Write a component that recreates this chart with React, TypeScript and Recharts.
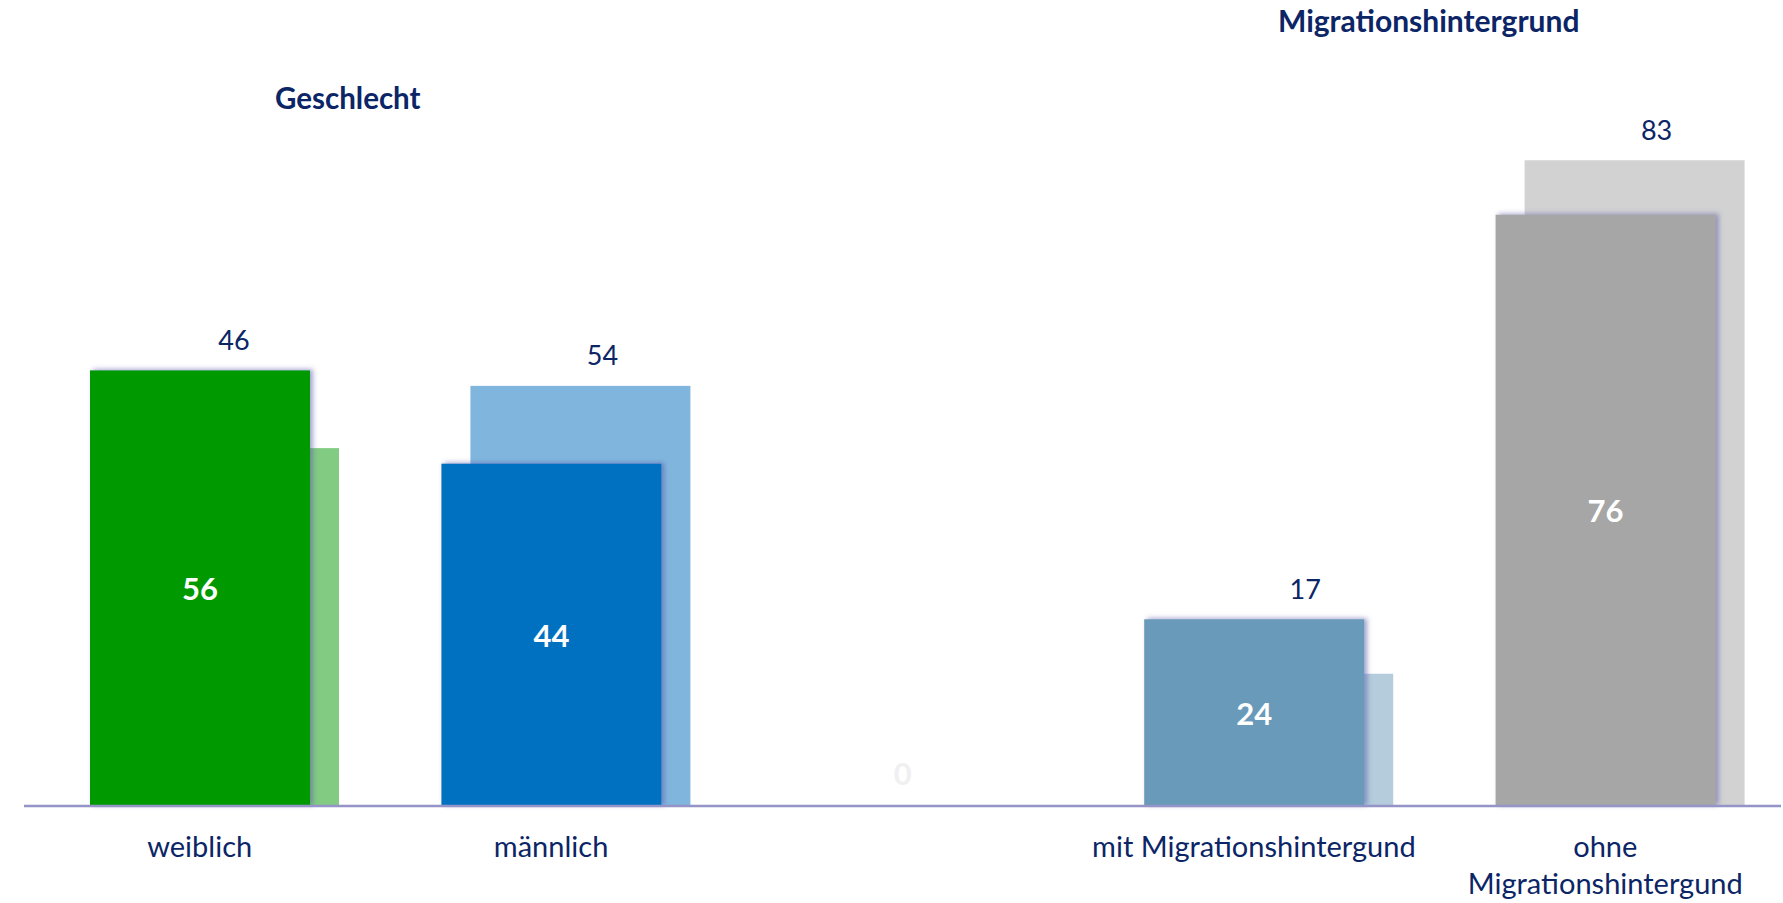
import React from "react";
import { Bar, BarChart, LabelList, XAxis, YAxis } from "recharts";

const categories = [
  "weiblich",
  "männlich",
  "",
  "mit Migrationshintergund",
  "ohne\nMigrationshintergund",
];
const currentShares = [56, 44, 0, 24, 76];
const previousShares = [46, 54, 0, 17, 83];
const frontColors = ["#009900", "#0070C0", "#FFFFFF", "#6A9AB9", "#A6A6A6"];
const backColors = ["#82CB82", "#80B6DE", "#FFFFFF", "#B4CCDC", "#D2D2D2"];

const data = categories.map((name, i) => ({
  name,
  current: currentShares[i],
  previous: previousShares[i],
}));

const NAVY = "#0B2566";
const FONT = "Lato, 'Open Sans', sans-serif";
const BACK_SHIFT = 29;

function BackBar(props: any) {
  const { x, y, width, height, index } = props;
  if (!height) return null;
  return <rect x={x + BACK_SHIFT} y={y} width={width} height={height} fill={backColors[index]} />;
}

function FrontBar(props: any) {
  const { x, y, width, height, index } = props;
  if (!height) return null;
  return (
    <rect x={x} y={y} width={width} height={height} fill={frontColors[index]} filter="url(#barShadow)" />
  );
}

function BackLabel(props: any) {
  const { x, y, width, height, index } = props;
  const prev = previousShares[index];
  if (!prev) return null;
  const ppu = height / prev;
  const frontTop = y + height - currentShares[index] * ppu;
  const top = Math.min(y, frontTop);
  const nudge = index === 0 ? 5 : 22;
  return (
    <text
      x={x + BACK_SHIFT + width / 2 + nudge}
      y={top - 31}
      textAnchor="middle"
      dominantBaseline="central"
      fill={NAVY}
      fontSize={27}
      fontFamily={FONT}
    >
      {prev}
    </text>
  );
}

function FrontLabel(props: any) {
  const { x, y, width, height, value } = props;
  const cy = value === 0 ? y - 33 : y + height / 2;
  return (
    <text
      x={x + width / 2}
      y={cy}
      textAnchor="middle"
      dominantBaseline="central"
      fill={value === 0 ? "#F0F0F0" : "#FFFFFF"}
      fontSize={31}
      fontWeight={700}
      fontFamily={FONT}
    >
      {value}
    </text>
  );
}

function CategoryTick(props: any) {
  const { x, y, payload } = props;
  const lines = String(payload.value).split("\n");
  return (
    <g>
      {lines.map((line, i) => (
        <text
          key={i}
          x={x}
          y={y + 31 + i * 37}
          textAnchor="middle"
          dominantBaseline="central"
          fill={NAVY}
          fontSize={29}
          fontFamily={FONT}
        >
          {line}
        </text>
      ))}
    </g>
  );
}

export default function App() {
  return (
    <div style={{ position: "absolute", left: 0, top: 0, width: 1783, height: 903, background: "#fff" }}>
      <svg width={0} height={0} style={{ position: "absolute" }}>
        <defs>
          <filter id="barShadow" x="-5%" y="-5%" width="115%" height="110%">
            <feDropShadow dx={3} dy={-1} stdDeviation={2.5} floodColor="#5A5AAA" floodOpacity={0.55} />
          </filter>
        </defs>
      </svg>
      <div
        style={{
          position: "absolute",
          left: 275,
          top: 80,
          fontFamily: FONT,
          fontWeight: 700,
          fontSize: 29.5,
          color: NAVY,
          whiteSpace: "nowrap",
        }}
      >
        Geschlecht
      </div>
      <div
        style={{
          position: "absolute",
          left: 1278,
          top: 2,
          fontFamily: FONT,
          fontWeight: 700,
          fontSize: 30,
          color: NAVY,
          whiteSpace: "nowrap",
        }}
      >
        Migrationshintergrund
      </div>
      <BarChart
        width={1783}
        height={903}
        data={data}
        margin={{ top: 28, right: 2, left: 24, bottom: 0 }}
        barCategoryGap="18.75%"
      >
        <XAxis
          xAxisId="front"
          dataKey="name"
          height={97}
          tickLine={false}
          axisLine={{ stroke: "#9494C8", strokeWidth: 2.5 }}
          tick={<CategoryTick />}
          interval={0}
        />
        <XAxis xAxisId="back" dataKey="name" height={0} hide />
        <YAxis domain={[0, 100]} hide />
        <Bar
          xAxisId="back"
          dataKey="previous"
          barSize={220}
          shape={<BackBar />}
          isAnimationActive={false}
        >
          <LabelList dataKey="previous" content={<BackLabel />} />
        </Bar>
        <Bar
          xAxisId="front"
          dataKey="current"
          barSize={220}
          shape={<FrontBar />}
          isAnimationActive={false}
        >
          <LabelList dataKey="current" content={<FrontLabel />} />
        </Bar>
      </BarChart>
    </div>
  );
}
